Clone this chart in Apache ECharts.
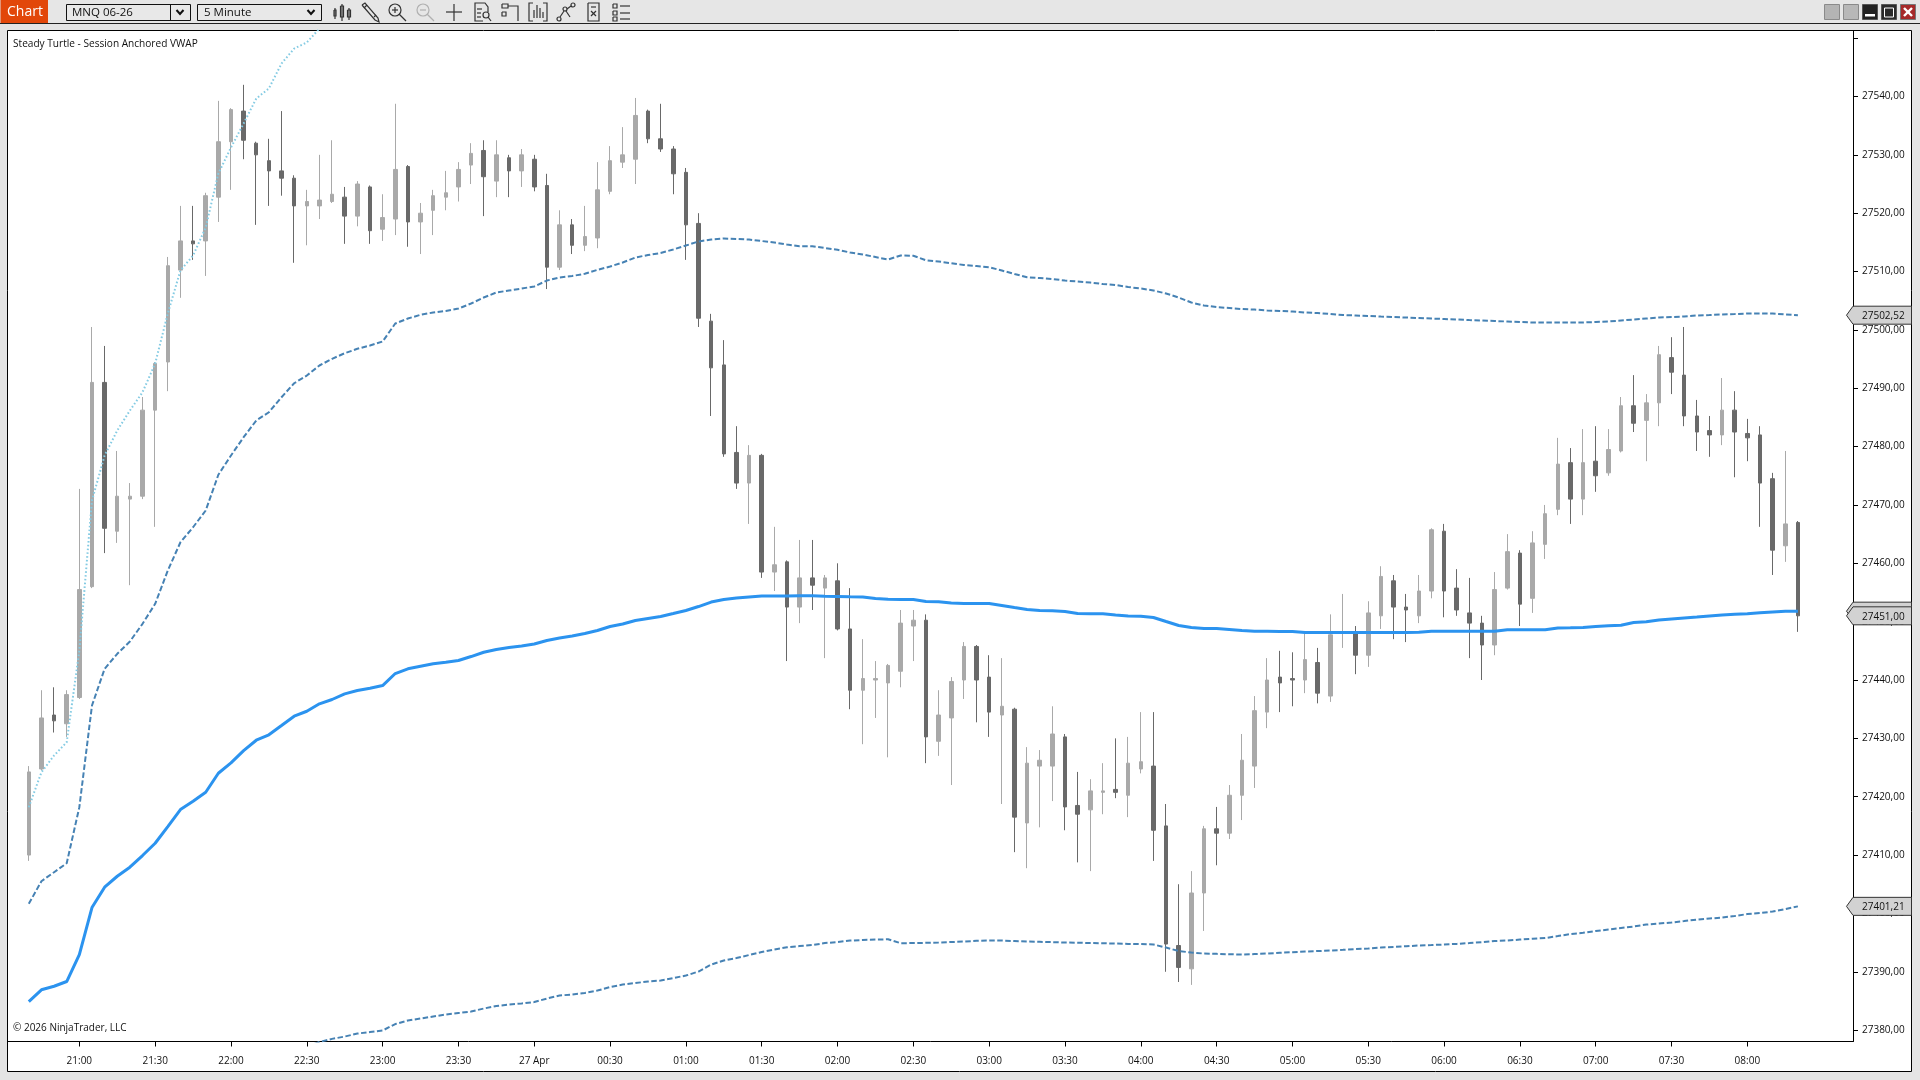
<!DOCTYPE html>
<html>
<head>
<meta charset="utf-8">
<title>MNQ 06-26 5 Minute</title>
<script src="https://cdn.jsdelivr.net/npm/echarts@6/dist/echarts.min.js"></script>
<style>
html, body { margin: 0; padding: 0; background: #e4e4e4; overflow: hidden; }
#chart { width: 1920px; height: 1080px; }
</style>
</head>
<body>
<div id="chart"></div>
<script>
// 5 minute bars
const barTimes = [
  '20:40','20:45','20:50','20:55','21:00','21:05','21:10','21:15','21:20','21:25',
  '21:30','21:35','21:40','21:45','21:50','21:55','22:00','22:05','22:10','22:15',
  '22:20','22:25','22:30','22:35','22:40','22:45','22:50','22:55','23:00','23:05',
  '23:10','23:15','23:20','23:25','23:30','23:35','23:40','23:45','23:50','23:55',
  '00:00','00:05','00:10','00:15','00:20','00:25','00:30','00:35','00:40','00:45',
  '00:50','00:55','01:00','01:05','01:10','01:15','01:20','01:25','01:30','01:35',
  '01:40','01:45','01:50','01:55','02:00','02:05','02:10','02:15','02:20','02:25',
  '02:30','02:35','02:40','02:45','02:50','02:55','03:00','03:05','03:10','03:15',
  '03:20','03:25','03:30','03:35','03:40','03:45','03:50','03:55','04:00','04:05',
  '04:10','04:15','04:20','04:25','04:30','04:35','04:40','04:45','04:50','04:55',
  '05:00','05:05','05:10','05:15','05:20','05:25','05:30','05:35','05:40','05:45',
  '05:50','05:55','06:00','06:05','06:10','06:15','06:20','06:25','06:30','06:35',
  '06:40','06:45','06:50','06:55','07:00','07:05','07:10','07:15','07:20','07:25',
  '07:30','07:35','07:40','07:45','07:50','07:55','08:00','08:05','08:10','08:15',
  '08:20'
];

const opens = [
  27410,27424.75,27434,27432.5,27437,27456,27491,27465.5,27471,27471.5,
  27486.25,27494.5,27510.25,27515.25,27515.25,27522.75,27532.25,27537.5,27532,27529,
  27527.25,27526,27521.25,27521.25,27522,27522.75,27519.5,27524.5,27517.25,27519,
  27528,27518.5,27520.5,27522.75,27524.5,27528.25,27530.75,27525.5,27529.5,27527.25,
  27529.25,27524.75,27510.75,27518,27514.5,27515.75,27523.75,27528.75,27529.25,27537.5,
  27532.75,27531,27527,27518.25,27501.5,27494,27479,27473.75,27478.5,27458.5,
  27460.25,27452.5,27457.5,27455.75,27457,27448.75,27438.25,27440,27439.5,27441.5,
  27449.25,27450.25,27429.5,27433.5,27440,27445.75,27440.5,27434,27435,27415.5,
  27425.25,27425.25,27430.25,27418.5,27417.75,27420.75,27421.25,27420.25,27424.75,27425.25,
  27415,27394.5,27390.5,27403.5,27414.5,27413.75,27420.25,27425.25,27434.5,27440.5,
  27440.25,27440,27443,27437.25,27448,27448,27444.25,27451,27457,27452.5,
  27451,27455.25,27465.5,27455.75,27451.5,27449.75,27446,27455.75,27461.75,27454,
  27463.25,27469.25,27477.25,27471,27477.5,27475.5,27479.25,27487,27484.5,27487.5,
  27495.25,27492.25,27485.25,27482.75,27482,27486.25,27482.25,27482,27474.5,27463,
  27467
];
const highs = [
  27425.25,27438.25,27438.75,27438.25,27472.75,27500.5,27497.25,27479.25,27473.75,27488.5,
  27494.5,27512.5,27521.25,27521.25,27523.5,27539.25,27538,27542,27532.25,27532.75,
  27537.5,27526.5,27524,27530,27532.5,27524.5,27525.5,27524.75,27523.25,27538.75,
  27528.25,27521.75,27524,27527.25,27528.75,27532,27532.5,27532.5,27530,27531,
  27530,27526.75,27520.5,27519,27521.25,27528.75,27531.5,27534.75,27539.75,27537.75,
  27538.75,27531.5,27527.75,27520,27502.75,27498.25,27483.5,27480.25,27478.75,27466.25,
  27460.5,27464,27464,27458,27460,27455.75,27447,27443.25,27442.75,27452,
  27452,27451.25,27438.25,27440.5,27446.5,27446,27444.25,27443.75,27435.25,27428.5,
  27428,27435.5,27430.75,27424.25,27423,27425.75,27430,27430.25,27434.5,27434.5,
  27418.75,27405,27407.25,27415,27418.25,27422,27430.75,27437.25,27443.75,27445,
  27444.75,27448,27445.5,27451.25,27454.75,27449.25,27453.5,27459.5,27458,27454.75,
  27458,27466,27466.75,27459,27457.5,27451,27458.5,27465,27462.25,27465.5,
  27470,27481.5,27479.75,27483,27483.5,27483,27488.5,27492.25,27489,27497.25,
  27498.75,27500.5,27488,27485.25,27491.75,27489.5,27484.75,27483.5,27475.5,27479.25,
  27467.25
];
const lows = [
  27409,27424.5,27431,27430.25,27436.75,27455.75,27461.75,27463.5,27456.25,27471,
  27466.25,27489.5,27505.5,27512,27509.25,27518.5,27524,27529.25,27518,27521.25,
  27523,27511.5,27514.5,27519,27521.75,27514.75,27517.75,27514.75,27515.25,27516.25,
  27514.25,27513,27516.25,27520.5,27522,27525,27519.5,27522.75,27522.75,27524.5,
  27523.75,27507,27510.25,27513,27513.5,27514,27523.25,27527.75,27525,27532,
  27530.5,27523.25,27512,27500.5,27485.25,27478.25,27472.75,27466.75,27457.5,27455.25,
  27443.25,27449.75,27452,27443.75,27448.5,27435,27429,27433.5,27426.75,27438.75,
  27443.25,27425.75,27427,27422,27436.75,27432.75,27430.25,27418.75,27410.5,27407.75,
  27414.75,27419.25,27414.25,27408.75,27407.25,27417,27419.75,27416.5,27424,27409,
  27390,27388.25,27387.75,27397,27408.25,27412.75,27416,27421.5,27431.75,27434.5,
  27435.5,27437.75,27436,27436.25,27445.5,27441,27442.25,27448.75,27447,27446.5,
  27449.75,27454,27450.75,27451,27443.75,27440,27444.25,27455.5,27449.25,27451.5,
  27460.75,27468.25,27466.75,27468.25,27472.25,27475,27479,27482.5,27477.5,27483.5,
  27489,27483.5,27479.25,27478.25,27480.25,27474.75,27477.5,27466.25,27458,27460.25,
  27448.25
];
const closes = [
  27424.25,27433.5,27433,27437.5,27455.5,27491,27466,27471.5,27471.5,27486.25,
  27494.25,27511,27515.25,27514.75,27523,27532.25,27537.75,27532.5,27530,27527.25,
  27526,27521.25,27522,27522.25,27523.25,27519.5,27525,27517,27519.25,27527.5,
  27518.5,27520,27523,27523.5,27527.5,27530.25,27526.25,27530,27527.25,27530,
  27524.5,27510.75,27518,27514.5,27516,27524,27529,27530,27536.75,27532.75,
  27531,27526.75,27518,27502,27493.5,27478.75,27473.75,27478.5,27458.5,27459.75,
  27452.5,27457.5,27456.25,27457.5,27448.75,27438.25,27440.25,27440.25,27442.5,27449.75,
  27450.25,27430.25,27434,27439.75,27445.75,27440,27434.5,27435.5,27416.5,27425.75,
  27426.25,27430.75,27418.25,27417,27421,27421,27420.75,27425.75,27426,27414.25,
  27394.75,27390.75,27403.5,27414.5,27413.75,27420.25,27426.25,27434.75,27440,27439.5,
  27440,27443.5,27437.75,27447.75,27448.25,27444.25,27451.5,27457.75,27452.5,27452,
  27455.25,27465.75,27455.25,27452,27449.75,27446,27455.5,27462,27453,27463.5,
  27468.5,27477,27471,27477.25,27475,27479.5,27487,27484,27487.5,27495.75,
  27492.75,27485.25,27482.5,27482,27486.25,27482.5,27481.5,27473.75,27462.25,27466.75,
  27451
];

// session anchored vwap
const vwap = [
  27384.9,27386.91,27387.52,27388.33,27392.95,27401.01,27404.49,27406.37,27407.92,27409.92,
  27412.03,27414.89,27417.8,27419.23,27420.77,27424.02,27425.81,27427.91,27429.68,27430.61,
  27432.2,27433.8,27434.65,27435.92,27436.66,27437.63,27438.2,27438.59,27439.05,27441.11,
  27441.92,27442.36,27442.77,27443.05,27443.34,27444.02,27444.76,27445.22,27445.57,27445.82,
  27446.17,27446.77,27447.19,27447.54,27447.97,27448.48,27449.17,27449.59,27450.19,27450.54,
  27450.88,27451.39,27451.91,27452.59,27453.36,27453.79,27454.05,27454.22,27454.39,27454.39,
  27454.39,27454.43,27454.43,27454.36,27454.31,27454.26,27454.22,27453.96,27453.85,27453.79,
  27453.79,27453.45,27453.4,27453.2,27453.11,27453.11,27453.11,27452.77,27452.42,27452.08,
  27451.91,27451.86,27451.74,27451.39,27451.34,27451.34,27451.14,27450.97,27450.93,27450.71,
  27450.02,27449.34,27448.99,27448.82,27448.82,27448.65,27448.48,27448.36,27448.36,27448.31,
  27448.31,27448.14,27448.14,27448.14,27448.14,27448.14,27448.14,27448.14,27448.14,27448.14,
  27448.19,27448.36,27448.36,27448.36,27448.36,27448.36,27448.36,27448.6,27448.6,27448.6,
  27448.6,27448.91,27448.94,27448.99,27449.17,27449.3,27449.39,27449.85,27449.97,27450.28,
  27450.45,27450.62,27450.79,27450.97,27451.14,27451.27,27451.34,27451.51,27451.65,27451.79,
  27451.8
];
const upperBand = [
  27401.64,27405.52,27407.06,27408.6,27418.2,27435.63,27441.92,27444.49,27446.6,27449.63,
  27453.06,27458.76,27463.61,27466.18,27469.05,27475.17,27478.47,27481.61,27484.47,27485.89,
  27488.46,27490.86,27492.18,27493.9,27495.04,27496,27496.76,27497.32,27498.01,27501.09,
  27501.95,27502.59,27502.98,27503.24,27503.66,27504.52,27505.55,27506.41,27506.75,27507.09,
  27507.44,27508.46,27508.98,27509.24,27509.61,27510.3,27510.86,27511.55,27512.41,27512.83,
  27513.18,27513.78,27514.46,27515.15,27515.49,27515.66,27515.58,27515.49,27515.23,27514.98,
  27514.63,27514.34,27514.34,27514.03,27513.73,27513.26,27512.92,27512.49,27512.06,27512.75,
  27512.7,27511.94,27511.72,27511.43,27511.12,27510.95,27510.74,27510.18,27509.58,27509.03,
  27508.89,27508.72,27508.46,27508.29,27508.12,27507.86,27507.69,27507.35,27507.09,27506.75,
  27506.24,27505.55,27504.69,27504.18,27503.92,27503.75,27503.58,27503.49,27503.32,27503.24,
  27503.15,27502.98,27502.89,27502.72,27502.55,27502.47,27502.38,27502.29,27502.21,27502.12,
  27502.04,27501.95,27501.87,27501.78,27501.69,27501.61,27501.52,27501.44,27501.35,27501.27,
  27501.27,27501.27,27501.27,27501.27,27501.35,27501.44,27501.61,27501.78,27501.95,27502.12,
  27502.21,27502.29,27502.47,27502.55,27502.64,27502.72,27502.81,27502.81,27502.81,27502.64,
  27502.52
];
// lower band comes into view at 22:30
const lowerBandStart = '22:30';
const lowerBand = [
  27377.19,27377.96,27378.5,27378.9,27379.41,27379.67,27379.93,27381.04,
  27381.64,27381.99,27382.33,27382.67,27382.93,27383.18,27383.7,27384.13,27384.38,27384.56,
  27384.81,27385.41,27385.93,27386.1,27386.36,27386.78,27387.38,27387.81,27388.07,27388.33,
  27388.5,27388.93,27389.35,27390.04,27391.24,27391.93,27392.35,27392.87,27393.38,27393.81,
  27394.2,27394.41,27394.58,27394.92,27395.1,27395.35,27395.44,27395.52,27395.57,27394.89,
  27394.92,27394.96,27395.01,27395.1,27395.18,27395.3,27395.35,27395.35,27395.27,27395.18,
  27395.13,27395.08,27395.01,27394.98,27394.92,27394.89,27394.84,27394.78,27394.75,27394.67,
  27394.15,27393.55,27393.3,27393.12,27393.07,27393,27392.95,27393.04,27393.12,27393.25,
  27393.35,27393.47,27393.55,27393.64,27393.76,27393.9,27393.98,27394.15,27394.24,27394.38,
  27394.5,27394.58,27394.67,27394.78,27394.92,27395.07,27395.27,27395.35,27395.52,27395.66,
  27395.78,27396.12,27396.47,27396.67,27396.98,27397.24,27397.5,27397.75,27398.09,27398.27,
  27398.44,27398.69,27398.95,27399.12,27399.29,27399.55,27399.89,27400.06,27400.32,27400.75,
  27401.21
];
// second band leaves the top of the chart around 22:40
const outerBand = [
  27418.2,27424.2,27427.06,27429.34,27445.05,27470.76,27478.47,27482.76,27486.18,27489.32,
  27494.24,27502.81,27510.18,27512.75,27517.55,27526.8,27531.26,27535.37,27539.65,27541.37,
  27545.65,27548.22,27549.25,27551.65,27553.43
];

const yTickValues = [27380,27390,27400,27410,27420,27430,27440,27450,27460,27470,27480,27490,27500,27510,27520,27530,27540,27550];
const yLabelValues = [27380,27390,27400,27410,27420,27430,27440,27450,27460,27470,27480,27490,27500,27510,27520,27530,27540];
const xTickTimes = ['21:00','21:30','22:00','22:30','23:00','23:30','00:00','00:30','01:00','01:30','02:00','02:30','03:00','03:30','04:00','04:30','05:00','05:30','06:00','06:30','07:00','07:30','08:00'];
const xTickLabels = ['21:00','21:30','22:00','22:30','23:00','23:30','27 Apr','00:30','01:00','01:30','02:00','02:30','03:00','03:30','04:00','04:30','05:00','05:30','06:00','06:30','07:00','07:30','08:00'];
const flagValues = [27502.52, 27451.8, 27401.21, 27451];

const chartFont = '"Open Sans", "Noto Sans", sans-serif';
const priceText = v => v.toFixed(2).replace('.', ',');

const candles = barTimes.map((t, i) => [i, opens[i], closes[i], lows[i], highs[i]]);
const lowerOffset = barTimes.indexOf(lowerBandStart);

function lineSeries(name, values, offset, color, width, type, z) {
  return {
    name: name,
    type: 'line',
    data: values.map((v, i) => [i + offset, v]),
    showSymbol: false,
    silent: true,
    z: z,
    lineStyle: { color: color, width: width, type: type }
  };
}

// window chrome around the chart
function box(x, y, w, h, fill, stroke, z) {
  return { type: 'rect', shape: { x: x, y: y, width: w, height: h }, z: z || 1,
    style: { fill: fill, stroke: stroke || null, lineWidth: 1 } };
}
function label(text, x, y, size, fill) {
  return { type: 'text', z: 5, x: x, y: y,
    style: { text: text, fill: fill || '#111', font: size + 'px ' + chartFont, verticalAlign: 'middle' } };
}
function icon(x, parts, color) {
  const stroke = color || '#333';
  return {
    type: 'group', x: x - 10, y: 2, z: 5,
    children: parts.map(p => p.length === 3 && !Array.isArray(p[0])
      ? { type: 'circle', z: 5, shape: { cx: p[0], cy: p[1], r: p[2] }, style: { fill: 'none', stroke: stroke, lineWidth: 1.2 } }
      : { type: 'polyline', z: 5, shape: { points: p }, style: { fill: 'none', stroke: stroke, lineWidth: 1.2 } })
  };
}
const iconShapes = [
  [342, [[[3,6],[3,17]], [[2,8],[4,8],[4,14],[2,14],[2,8]], [[10,2],[10,19]], [[8.5,4],[11.5,4],[11.5,15],[8.5,15],[8.5,4]], [[17,6],[17,18]], [[15.5,8],[18.5,8],[18.5,15],[15.5,15],[15.5,8]]]],
  [370, [[[2,3],[5,1],[18,16],[19,20],[15,18],[2,3]], [[4,6],[7,3]], [[14,15],[16,13]]]],
  [398, [[7,8,6], [[7,5],[7,11]], [[4,8],[10,8]], [[11,12],[18,19]]]],
  [426, [[7,8,6], [[4,8],[10,8]], [[11,12],[18,19]]], '#b0b0b0'],
  [454, [[[10,2],[10,19]], [[2,10],[18,10]]]],
  [482, [[[11,19],[3,19],[3,1],[13,1],[16,5],[16,10]], [[5,7],[10,7]], [[5,11],[9,11]], [[5,15],[9,15]], [14,13,3], [[16,15],[19,19]]]],
  [510, [[[2,2],[8,2],[8,6],[2,6],[2,2]], [[8,4],[18,4],[18,19]], [[2,10],[6,10],[6,14],[2,14],[2,10]]]],
  [538, [[[5,1],[1,1],[1,19],[5,19]], [[15,1],[19,1],[19,19],[15,19]], [[6,16],[6,8]], [[9,16],[9,3]], [[12,16],[12,6]], [[15,16],[15,10]]]],
  [566, [[3,17,2], [9,7,2], [17,3,2], [[4,15],[8,9]], [[11,7],[15,4]], [[10,9],[14,15]]]],
  [594, [[[4,1],[15,1],[15,19],[4,19],[4,1]], [[7,5],[12,5]], [[7,9],[12,14]], [[12,9],[7,14]]]],
  [621, [[[2,2],[6,2],[6,6],[2,6],[2,2]], [[2,9],[6,9],[6,13],[2,13],[2,9]], [[2,15],[6,15],[6,19],[2,19],[2,15]], [[9,4],[19,4]], [[9,11],[19,11]], [[9,17],[19,17]]]]
];
const chrome = [
  box(0, 0, 1920, 23, '#e6e6e6'),
  box(7.5, 30.5, 1904, 1041, '#fff', '#000', -10),
  box(0.5, -1, 47.5, 24, '#e2470a'),
  label('Chart', 7, 12, 14, '#fff'),
  box(66.5, 4.5, 124, 16, '#e8e8e8', '#111'),
  { type: 'line', z: 5, shape: { x1: 170.5, y1: 4.5, x2: 170.5, y2: 20.5 }, style: { stroke: '#111' } },
  label('MNQ 06-26', 72, 12.5, 11.5),
  { type: 'polyline', z: 5, shape: { points: [[176.5, 10], [180, 14], [183.5, 10]] }, style: { fill: 'none', stroke: '#111', lineWidth: 2 } },
  box(197.5, 4.5, 124, 16, '#e8e8e8', '#111'),
  label('5 Minute', 204, 12.5, 11.5),
  { type: 'polyline', z: 5, shape: { points: [[307.5, 10], [311, 14], [314.5, 10]] }, style: { fill: 'none', stroke: '#111', lineWidth: 2 } },
  { type: 'line', z: 2, shape: { x1: 0, y1: 23.5, x2: 1920, y2: 23.5 }, style: { stroke: '#222' } },
  box(1824.5, 4.5, 15, 15, '#b4b4b4', '#8a8a8a'),
  box(1843.5, 4.5, 15, 15, '#b8b8b8', '#8a8a8a'),
  box(1862.5, 4.5, 15, 15, '#222', '#555'),
  box(1865, 14, 10, 2.5, '#fff', null, 3),
  box(1881.5, 4.5, 15, 15, '#2a2a2a', '#555'),
  { type: 'rect', z: 3, shape: { x: 1884.5, y: 8, width: 9, height: 9 }, style: { fill: 'none', stroke: '#fff', lineWidth: 1 } },
  box(1900.5, 4.5, 15, 15, '#a62a2a', '#777'),
  { type: 'line', z: 5, shape: { x1: 1904, y1: 8, x2: 1912, y2: 16 }, style: { stroke: '#fff', lineWidth: 2.4 } },
  { type: 'line', z: 5, shape: { x1: 1912, y1: 8, x2: 1904, y2: 16 }, style: { stroke: '#fff', lineWidth: 2.4 } },
  label('Steady Turtle - Session Anchored VWAP', 13, 44, 10.1),
  label('\u00A9 2026 NinjaTrader, LLC', 13, 1028, 10)
].concat(iconShapes.map(s => icon(s[0], s[1], s[2])));

const chart = echarts.init(document.getElementById('chart'));
chart.setOption({
  animation: false,
  backgroundColor: 'transparent',
  graphic: chrome,
  grid: { left: 7.5, top: 30.5, width: 1845.5, height: 1011 },
  xAxis: {
    type: 'value',
    min: -1.685,
    max: 144.36,
    splitLine: { show: false },
    axisLine: { show: true, onZero: false, lineStyle: { color: '#000', width: 1 } },
    axisTick: {
      show: true, length: 5, lineStyle: { color: '#000' },
      customValues: xTickTimes.map(t => barTimes.indexOf(t))
    },
    axisLabel: {
      color: '#111', fontFamily: chartFont, fontSize: 10, margin: 15,
      customValues: xTickTimes.map(t => barTimes.indexOf(t)),
      formatter: v => xTickLabels[xTickTimes.indexOf(barTimes[v])]
    }
  },
  yAxis: {
    type: 'value',
    position: 'right',
    min: 27378.05,
    max: 27551.31,
    splitLine: { show: false },
    axisLine: { show: true, onZero: false, lineStyle: { color: '#000', width: 1 } },
    axisTick: { show: true, length: 5, lineStyle: { color: '#000' }, customValues: yTickValues },
    axisLabel: {
      color: '#111', fontFamily: chartFont, fontSize: 10, margin: 9, padding: [3, 0, 0, 0],
      customValues: yLabelValues,
      formatter: priceText
    }
  },
  series: [
    {
      name: 'MNQ 06-26',
      type: 'candlestick',
      data: candles,
      encode: { x: 0, y: [1, 2, 3, 4] },
      barWidth: 4,
      silent: true,
      z: 2,
      itemStyle: { color: '#a9a9a9', color0: '#696969', borderColor: '#a9a9a9', borderColor0: '#696969', borderWidth: 1 }
    },
    lineSeries('Outer band', outerBand, 0, '#84cbe3', 2, [1.6, 2.2], 3),
    lineSeries('Upper band', upperBand, 0, '#4682b4', 2, [5.5, 2.5], 3),
    lineSeries('Lower band', lowerBand, lowerOffset, '#4682b4', 2, [5.5, 2.5], 3),
    lineSeries('VWAP', vwap, 0, '#2b93ef', 3, 'solid', 4),
    {
      // price flags sitting on the axis
      name: 'Flags',
      type: 'custom',
      silent: true,
      z: 6,
      data: flagValues.map(v => [barTimes.length - 1, v]),
      encode: { x: 0, y: 1 },
      renderItem: (params, api) => {
        const y = api.coord([0, api.value(1)])[1];
        const right = params.coordSys.x + params.coordSys.width;
        return {
          type: 'group',
          children: [
            {
              type: 'polygon',
              shape: { points: [[right - 6.5, y], [right, y - 9], [right + 58.5, y - 9], [right + 58.5, y + 9], [right, y + 9]] },
              style: { fill: '#d2d2d2', stroke: '#333', lineWidth: 1 }
            },
            {
              type: 'text',
              style: { text: priceText(api.value(1)), x: right + 9, y: y + 1, fill: '#111', font: '10px ' + chartFont, verticalAlign: 'middle' }
            }
          ]
        };
      }
    }
  ]
});
</script>
</body>
</html>
